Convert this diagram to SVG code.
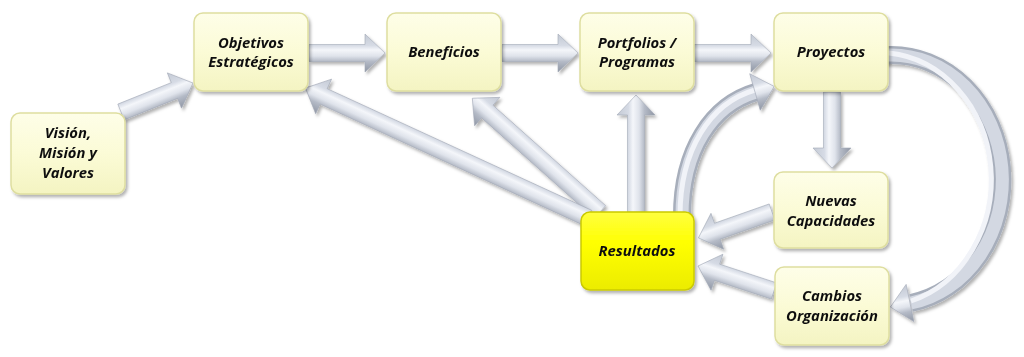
<svg xmlns="http://www.w3.org/2000/svg" width="1024" height="357" viewBox="0 0 1024 357">
<defs>
<linearGradient id="arrGrad" gradientUnits="userSpaceOnUse" x1="0" y1="-19" x2="0" y2="19">
<stop offset="0" stop-color="#c3c9d4"/>
<stop offset="0.3" stop-color="#d6dbe5"/>
<stop offset="0.42" stop-color="#f4f6fa"/>
<stop offset="0.58" stop-color="#dfe3eb"/>
<stop offset="0.72" stop-color="#b5bbc7"/>
<stop offset="1" stop-color="#8f96a4"/>
</linearGradient>
<linearGradient id="nodeGrad" x1="0" y1="0" x2="0" y2="1">
<stop offset="0" stop-color="#fefee8"/>
<stop offset="0.5" stop-color="#fbfbd6"/>
<stop offset="1" stop-color="#f4f4c2"/>
</linearGradient>
<linearGradient id="yelGrad" x1="0" y1="0" x2="0" y2="1">
<stop offset="0" stop-color="#ffff40"/>
<stop offset="0.4" stop-color="#ffff00"/>
<stop offset="1" stop-color="#ecec00"/>
</linearGradient>
<filter id="shadow" x="-10%" y="-10%" width="130%" height="130%">
<feDropShadow dx="2" dy="2.5" stdDeviation="1.8" flood-color="#000" flood-opacity="0.3"/>
</filter>
<style>
.arr{fill:url(#arrGrad);stroke:#a3aab7;stroke-width:0.6}
.tubeO{fill:none;stroke:#a7aebb;stroke-width:18}
.tubeM{fill:none;stroke:#d3d8e2;stroke-width:13}
.tubeI{fill:none;stroke:#f1f3f8;stroke-width:5}
.node rect{fill:url(#nodeGrad);stroke:#dedea0;stroke-width:1.5}
#n-resultados rect{fill:url(#yelGrad);stroke:#caca00}
.node text{font-family:"Open Sans",Lato,sans-serif;font-weight:bold;font-style:italic;font-size:14.8px;fill:#111;text-anchor:middle}
</style>
</defs>
<rect width="1024" height="357" fill="#ffffff"/>
<g id="connectors" filter="url(#shadow)">
<path class="arr" transform="translate(121,112) rotate(-21.9)" d="M0,-8.5 H57.6 V-19 L77.6,0 L57.6,19 V8.5 H0 Z"/>
<path class="arr" transform="translate(309,53)" d="M0,-8.5 H56 V-19 L76,0 L56,19 V8.5 H0 Z"/>
<path class="arr" transform="translate(502,53)" d="M0,-8.5 H56 V-19 L76,0 L56,19 V8.5 H0 Z"/>
<path class="arr" transform="translate(694,53)" d="M0,-8.5 H57 V-19 L77,0 L57,19 V8.5 H0 Z"/>
<path class="arr" transform="translate(832,92) rotate(90) scale(1,-1)" d="M0,-8.5 H56 V-19 L76,0 L56,19 V8.5 H0 Z"/>
<path class="arr" transform="translate(636,212) rotate(-90)" d="M0,-8.5 H97 V-19 L117,0 L97,19 V8.5 H0 Z"/>
<path class="arr" transform="translate(600,212) rotate(-138.3) scale(1,-1)" d="M0,-8.5 H151 V-19 L171,0 L151,19 V8.5 H0 Z"/>
<path class="arr" transform="translate(588,218) rotate(-155.3) scale(1,-1)" d="M0,-8.5 H291 V-19 L311,0 L291,19 V8.5 H0 Z"/>
<path class="arr" transform="translate(772,212) rotate(160.6) scale(1,-1)" d="M0,-8.5 H58 V-19 L78,0 L58,19 V8.5 H0 Z"/>
<path class="arr" transform="translate(774,291) rotate(-161.8) scale(1,-1)" d="M0,-8.5 H60 V-19 L80,0 L60,19 V8.5 H0 Z"/>
<g>
<path class="tubeO" d="M682,216 C682,150 712,105 756,92"/>
<path class="tubeM" d="M682,216 C682,150 712,105 756,92"/>
<path class="tubeI" d="M680,216 C680,150 710,103 755,90"/>
<path class="arr" transform="translate(755,92) rotate(-16.1)" d="M0,-19 L20,0 L0,19 Z"/>
</g>
<g>
<path class="tubeO" d="M884,55 L889,55 A111,125 0 0 1 911,303"/>
<path class="tubeM" d="M884,55 L889,55 A111,125 0 0 1 911,303"/>
<path class="tubeI" d="M884,53 L889,53 A113,127 0 0 1 911,301"/>
<path class="arr" transform="translate(910,303) rotate(168.3) scale(1,-1)" d="M0,-19 L20,0 L0,19 Z"/>
</g>
</g>
<g id="n-vision" class="node" filter="url(#shadow)">
<rect x="11" y="113" width="114" height="81" rx="9"/>
<text x="68" y="138">Visión,</text>
<text x="68" y="158">Misión y</text>
<text x="68" y="178">Valores</text>
</g>
<g id="n-objetivos" class="node" filter="url(#shadow)">
<rect x="194" y="13" width="114" height="78" rx="9"/>
<text x="251" y="48">Objetivos</text>
<text x="251" y="67">Estratégicos</text>
</g>
<g id="n-beneficios" class="node" filter="url(#shadow)">
<rect x="387" y="13" width="114" height="78" rx="9"/>
<text x="444" y="57">Beneficios</text>
</g>
<g id="n-portfolios" class="node" filter="url(#shadow)">
<rect x="580" y="13" width="114" height="78" rx="9"/>
<text x="637" y="48">Portfolios /</text>
<text x="637" y="67">Programas</text>
</g>
<g id="n-proyectos" class="node" filter="url(#shadow)">
<rect x="774" y="13" width="114" height="78" rx="9"/>
<text x="831" y="57">Proyectos</text>
</g>
<g id="n-nuevas" class="node" filter="url(#shadow)">
<rect x="774" y="172" width="114" height="76" rx="9"/>
<text x="831" y="206">Nuevas</text>
<text x="831" y="226">Capacidades</text>
</g>
<g id="n-resultados" class="node" filter="url(#shadow)">
<rect x="581" y="212" width="113" height="78" rx="9"/>
<text x="637" y="256">Resultados</text>
</g>
<g id="n-cambios" class="node" filter="url(#shadow)">
<rect x="775" y="267" width="114" height="78" rx="9"/>
<text x="832" y="301">Cambios</text>
<text x="832" y="321">Organización</text>
</g>
</svg>
